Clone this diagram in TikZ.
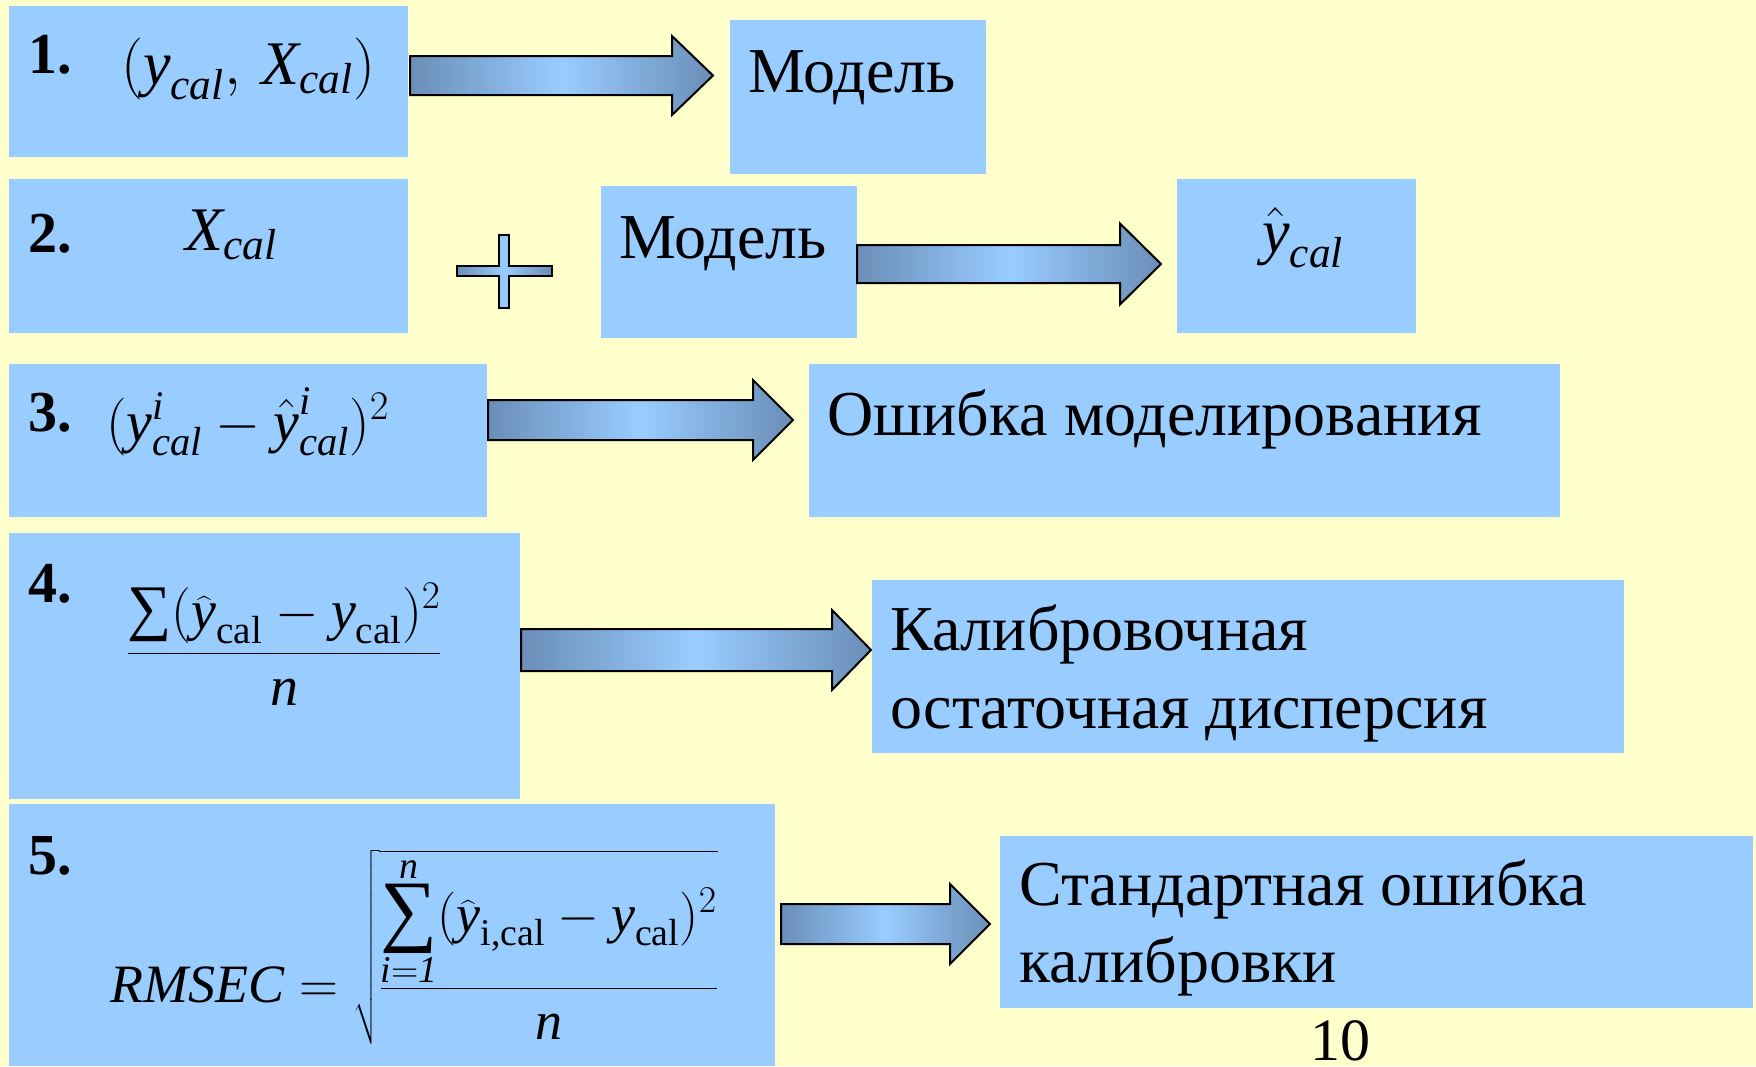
\documentclass[tikz,border=0pt]{standalone}
\usepackage{fix-cm}
\usepackage{exscale}
\usepackage{amsmath}
\usepackage{fontspec}
\setmainfont{Liberation Serif}
\usetikzlibrary{calc}
\definecolor{bgyellow}{HTML}{FFFFCC}
\definecolor{boxblue}{HTML}{99CCFF}
\definecolor{arrdark}{HTML}{6A8EB7}
\definecolor{arrlight}{HTML}{99CCFF}
\tikzset{
  box/.style={fill=boxblue, draw=none, inner sep=0pt, outer sep=0pt},
  outline/.style={draw=black, line width=2pt, line join=miter},
  lbl/.style={anchor=base west, inner sep=0pt, font=\fontsize{64}{76}\selectfont},
  numlbl/.style={anchor=base west, inner sep=0pt, font=\fontsize{58}{64}\selectfont\bfseries},
  frm/.style={inner sep=0pt}
}
\newcommand\vi[1]{\textit{#1}}
\newcommand\vr[1]{\textup{#1}}
\newcommand\bigS[1]{\mathop{\vcenter{\hbox{\fontsize{#1}{#1}\selectfont\char"2211}}}}
% #1 start coordinate name, #2 length, #3 head length, #4 half shaft, #5 half head
\newcommand\arrowoutline[5]{(#1) ++(0,-#4) -- ++({#2-#3},0) -- ++(0,{#4-#5}) -- ++(#3,#5) -- ++(-#3,#5) -- ++(0,{#4-#5}) -- ++({-(#2-#3)},0) -- cycle}
\newcommand\gradstrips[4]{% #1 left x, #2 width, #3 top y, #4 bottom y
  \foreach \k in {0,...,59}{%
    \pgfmathsetmacro\mixv{100*(1-abs(2*(\k+0.5)/60-1))}%
    \fill[arrlight!\mixv!arrdark] ({#1+#2/60*\k},#3) rectangle ({#1+#2/60*(\k+1)+0.8},#4);}}
\newcommand\fatarrow[5]{%
  \begin{scope}
    \clip \arrowoutline{#1}{#2}{#3}{#4}{#5};
    \path (#1) ++(0,-60) coordinate (tmpa) (#1) ++(0,60) coordinate (tmpb);
    \foreach \k in {0,...,59}{%
      \pgfmathsetmacro\mixv{100*(1-abs(2*(\k+0.5)/60-1))}%
      \fill[arrlight!\mixv!arrdark] ($(tmpa)+({#2/60*\k},0)$) rectangle ($(tmpb)+({#2/60*(\k+1)+0.8},0)$);}
  \end{scope}
  \path[outline] \arrowoutline{#1}{#2}{#3}{#4}{#5};}
\begin{document}
\begin{tikzpicture}[x=1pt,y=-1pt]
\useasboundingbox (0,0) rectangle (1756,1066);
\fill[bgyellow] (0,0) rectangle (1756,1066);
% boxes
\node[box, anchor=north west, minimum width=399pt, minimum height=151pt] (b1) at (9,6) {};
\node[box, anchor=north west, minimum width=256pt, minimum height=154pt] (m1) at (730,20) {};
\node[box, anchor=north west, minimum width=399pt, minimum height=154pt] (b2) at (9,179) {};
\node[box, anchor=north west, minimum width=256pt, minimum height=152pt] (m2) at (601,186) {};
\node[box, anchor=north west, minimum width=239pt, minimum height=154pt] (yh) at (1177,179) {};
\node[box, anchor=north west, minimum width=478pt, minimum height=153pt] (b3) at (9,364) {};
\node[box, anchor=north west, minimum width=751pt, minimum height=153pt] (e3) at (809,364) {};
\node[box, anchor=north west, minimum width=511pt, minimum height=266pt] (b4) at (9,533) {};
\node[box, anchor=north west, minimum width=752pt, minimum height=173pt] (e4) at (872,580) {};
\node[box, anchor=north west, minimum width=766pt, minimum height=262pt] (b5) at (9,804) {};
\node[box, anchor=north west, minimum width=753pt, minimum height=172pt] (e5) at (1000,836) {};
% arrows
\coordinate (a1) at ($(b1.north east)+(2,69.5)$);
\coordinate (a2) at ($(m2.north east)+(0,78)$);
\coordinate (a3) at ($(b3.north east)+(1,56)$);
\coordinate (a4) at ($(b4.north east)+(1,117)$);
\coordinate (a5) at ($(b5.north east)+(6,120)$);
\fatarrow{a1}{303}{41}{19.5}{39.5}
\fatarrow{a2}{304}{41}{19}{40.5}
\fatarrow{a3}{305}{40}{20}{40}
\fatarrow{a4}{350}{39}{21}{40}
\fatarrow{a5}{209}{40}{20}{40}
% plus sign
\begin{scope}
\clip (499,235) -- (509,235) -- (509,266) -- (552,266) -- (552,276) -- (509,276) -- (509,308)
  -- (499,308) -- (499,276) -- (457,276) -- (457,266) -- (499,266) -- cycle;
\gradstrips{457}{95}{230}{312}
\end{scope}
\draw[outline] (499,235) -- (509,235) -- (509,266) -- (552,266) -- (552,276) -- (509,276) -- (509,308)
  -- (499,308) -- (499,276) -- (457,276) -- (457,266) -- (499,266) -- cycle;
% numbers
\node[numlbl] (n1) at (28,73) {1.};
\node[numlbl] (n2) at (28,252) {2.};
\node[numlbl] (n3) at (28,431) {3.};
\node[numlbl] (n4) at (28,602) {4.};
\node[numlbl] (n5) at (28,874) {5.};
% formulas
\node[frm, anchor=base west, font=\fontsize{62}{70}\selectfont] (f1) at (121,84) {$(\vi{y}_{\vi{cal}},\,\vi{X}_{\vi{cal}})$};
\node[frm, anchor=base west, font=\fontsize{62}{70}\selectfont] (f2) at (185,250) {$\vi{X}_{\vi{cal}}$};
\node[frm, anchor=base west, font=\fontsize{62}{70}\selectfont] (f2b) at (1262,252) {$\hat{\vi{y}}_{\vi{cal}}$};
\node[frm, anchor=base west, font=\fontsize{58}{64}\selectfont] (f3) at (106,441) {$(\vi{y}^{\vi{i}}_{\vi{cal}}-\hat{\vi{y}}^{\vi{i}}_{\vi{cal}})^{2}$};
\node[frm, anchor=base, font=\fontsize{56}{62}\selectfont] (f4) at (284,667) {$\dfrac{\bigS{62}\nolimits(\widehat{\vi{y}}_{\vr{cal}}-\vi{y}_{\vr{cal}})^{2}}{\vi{n}}$};
\node[frm, anchor=base west, font=\fontsize{54}{60}\selectfont] (f5) at (110,1002) {$\vi{RMSEC}=\sqrt{\dfrac{\bigS{80}\limits_{\vi{i}=\vi{1}}^{\vi{n}}(\widehat{\vi{y}}_{\vr{i,cal}}-\vi{y}_{\vr{cal}})^{2}}{\vi{n}}}$};
% texts
\node[lbl] (t1) at (748,92) {Модель};
\node[lbl] (t2) at (619,258) {Модель};
\node[lbl] (t3) at (827,435) {Ошибка моделирования};
\node[lbl] (t4a) at (890,650) {Калибровочная};
\node[lbl] (t4b) at (890,728) {остаточная дисперсия};
\node[lbl] (t5a) at (1019,905) {Стандартная ошибка};
\node[lbl] (t5b) at (1019,982) {калибровки};
\node[lbl, font=\fontsize{60}{70}\selectfont] (pg) at (1310,1060) {10};
\end{tikzpicture}
\end{document}
